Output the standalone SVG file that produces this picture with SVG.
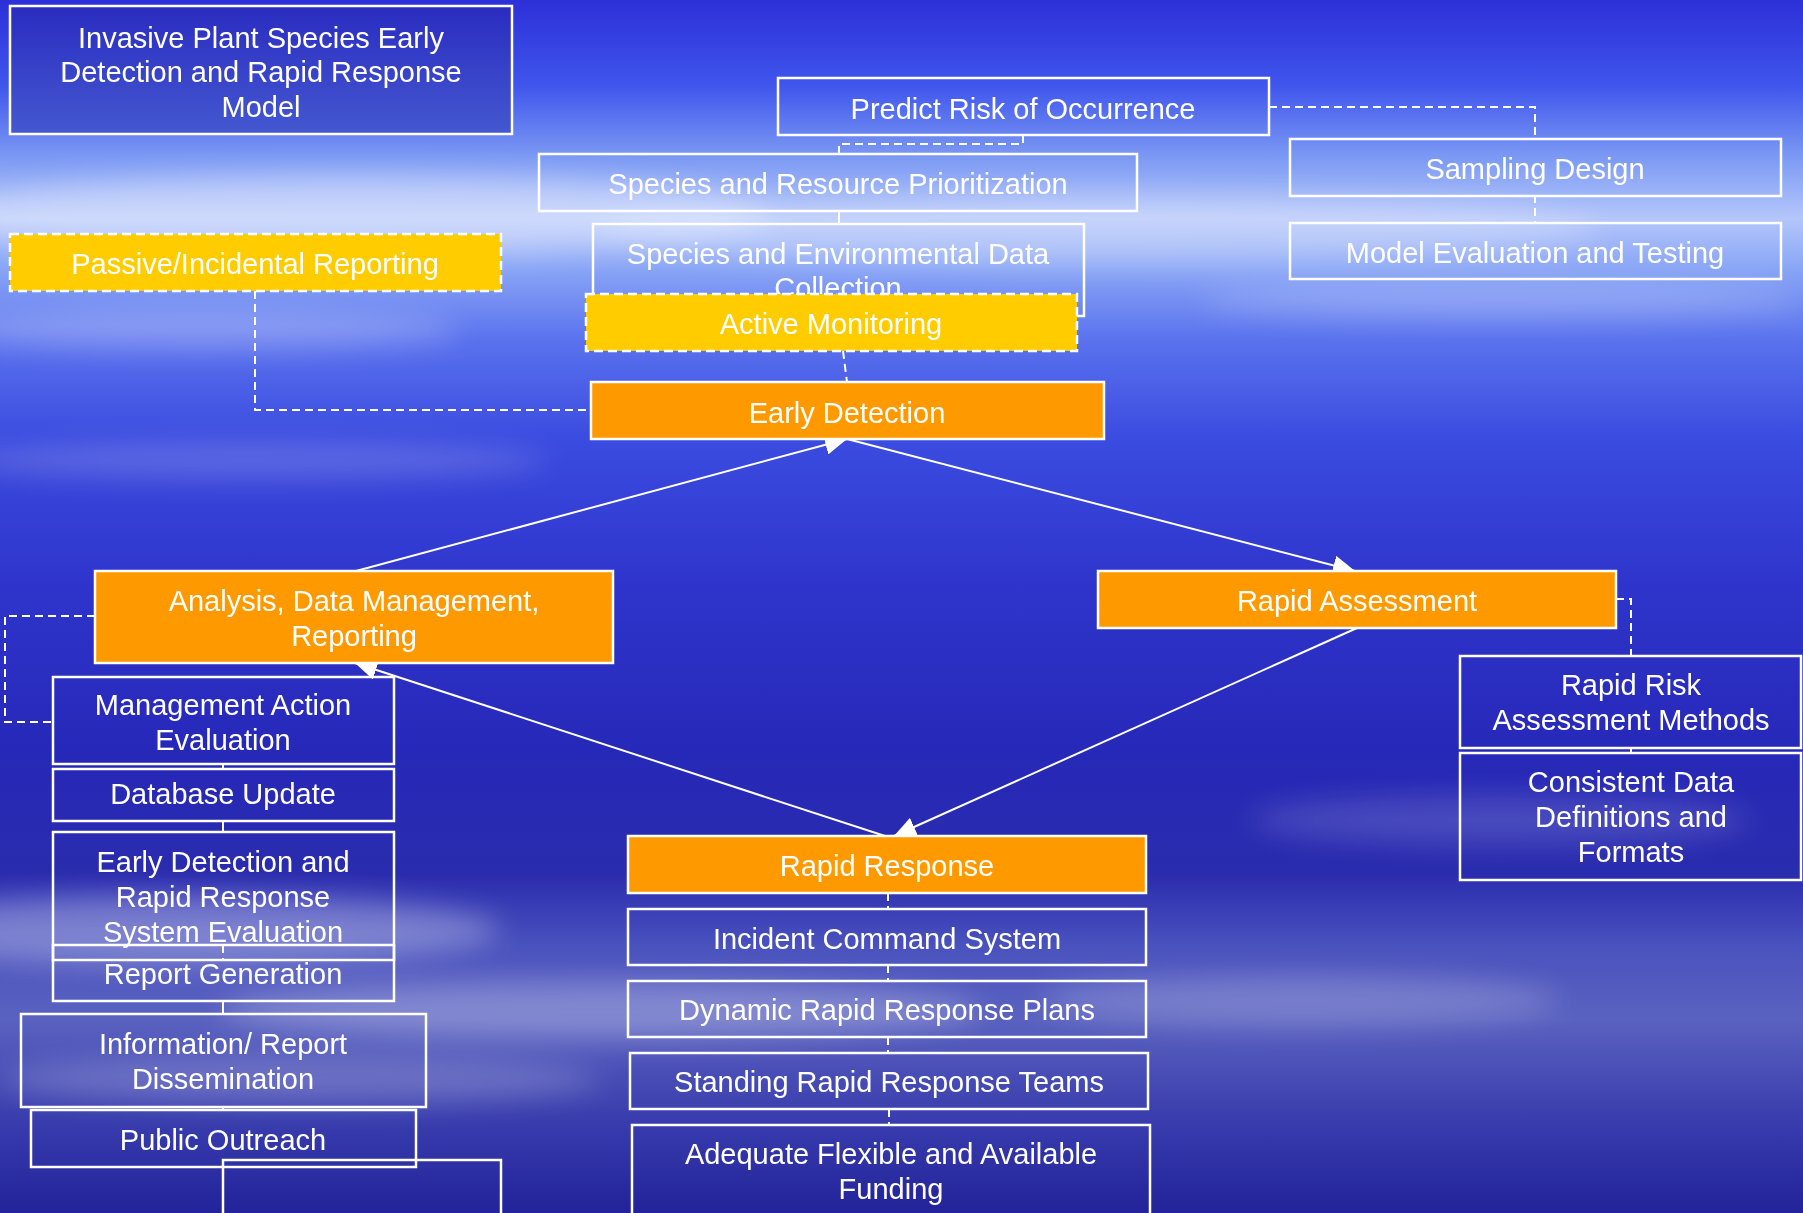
<svg xmlns="http://www.w3.org/2000/svg" width="1803" height="1213" viewBox="0 0 1803 1213">
<defs>
<linearGradient id="sky" x1="0" y1="0" x2="0" y2="1">
<stop offset="0" stop-color="#2c30d8"/>
<stop offset="0.07" stop-color="#3f55ec"/>
<stop offset="0.13" stop-color="#7c9af4"/>
<stop offset="0.18" stop-color="#b4c6fa"/>
<stop offset="0.22" stop-color="#8aa6f6"/>
<stop offset="0.28" stop-color="#5a72ee"/>
<stop offset="0.36" stop-color="#3b4ce0"/>
<stop offset="0.48" stop-color="#2f35cc"/>
<stop offset="0.62" stop-color="#2628b8"/>
<stop offset="0.72" stop-color="#2a2cae"/>
<stop offset="0.78" stop-color="#4a52be"/>
<stop offset="0.84" stop-color="#5a62c0"/>
<stop offset="0.92" stop-color="#3a3eae"/>
<stop offset="1" stop-color="#22229a"/>
</linearGradient>
<linearGradient id="titleFill" x1="0" y1="0" x2="0" y2="1">
<stop offset="0" stop-color="#2a2cc0"/>
<stop offset="1" stop-color="#4458d0"/>
</linearGradient>
<filter id="blur" x="-20%" y="-50%" width="140%" height="200%">
<feGaussianBlur stdDeviation="14"/>
</filter>
<marker id="arrow" markerUnits="userSpaceOnUse" markerWidth="24" markerHeight="20" refX="22" refY="10" orient="auto">
<path d="M0,0 L22,10 L0,20 Z" fill="#ffffff"/>
</marker>
</defs>
<style>
.lbl{font-family:"Liberation Sans",Arial,sans-serif;font-size:29px;fill:#ffffff;text-anchor:middle}
.box{fill:none;stroke:#ffffff;stroke-width:2.5}
.orange{fill:#ff9900;stroke:#ffffff;stroke-width:2.5}
.yellow{fill:#ffcc00;stroke:#ffffff;stroke-width:2.5;stroke-dasharray:9 5}
.dash{fill:none;stroke:#ffffff;stroke-width:2;stroke-dasharray:8 5}
.solid{fill:none;stroke:#ffffff;stroke-width:2}
</style>
<rect x="0" y="0" width="1803" height="1213" fill="url(#sky)"/>
<g filter="url(#blur)" fill="#ffffff">
<ellipse cx="350" cy="215" rx="420" ry="40" opacity="0.35"/>
<ellipse cx="1100" cy="230" rx="500" ry="35" opacity="0.25"/>
<ellipse cx="200" cy="330" rx="260" ry="20" opacity="0.25"/>
<ellipse cx="1500" cy="300" rx="300" ry="18" opacity="0.2"/>
<ellipse cx="250" cy="460" rx="300" ry="18" opacity="0.18"/>
<ellipse cx="180" cy="930" rx="320" ry="35" opacity="0.3"/>
<ellipse cx="600" cy="1010" rx="380" ry="30" opacity="0.25"/>
<ellipse cx="1300" cy="1000" rx="260" ry="25" opacity="0.2"/>
<ellipse cx="1500" cy="820" rx="250" ry="25" opacity="0.15"/>
<ellipse cx="300" cy="1080" rx="300" ry="25" opacity="0.2"/>
</g>

<g id="connectors">
<path class="dash" d="M1023,135 V144 H839 V154"/>
<path class="solid" d="M839,211 V224"/>
<path class="dash" d="M1269,107 H1535 V138"/>
<path class="dash" d="M1535,195 V223"/>
<path class="dash" d="M843,351 L847,382"/>
<path class="dash" d="M255,291 V410 H591"/>
<path class="dash" d="M95,616 H5 V722 H53"/>
<path class="solid" d="M223,764 V769"/>
<path class="solid" d="M223,821 V832"/>
<path class="dash" d="M223,945 V960"/>
<path class="solid" d="M223,1001 V1014"/>
<path class="solid" d="M223,1107 V1110"/>
<path class="dash" d="M1616,599 H1631 V656"/>
<path class="solid" d="M1631,748 V753"/>
<path class="dash" d="M888,893 V909"/>
<path class="dash" d="M888,965 V981"/>
<path class="dash" d="M888,1037 V1053"/>
<path class="dash" d="M889,1109 V1125"/>
<path class="solid" d="M356,571 L847,439" marker-end="url(#arrow)"/>
<path class="solid" d="M847,439 L1355,571" marker-end="url(#arrow)"/>
<path class="solid" d="M1357,628 L894,836" marker-end="url(#arrow)"/>
<path class="solid" d="M885,836 L355,663" marker-end="url(#arrow)"/>
</g>

<g id="title">
<rect x="10" y="6" width="502" height="128" fill="url(#titleFill)" stroke="#ffffff" stroke-width="2.5"/>
<text class="lbl" x="261" y="48">Invasive Plant Species Early</text>
<text class="lbl" x="261" y="82">Detection and Rapid Response</text>
<text class="lbl" x="261" y="117">Model</text>
</g>
<g id="predict-risk">
<rect class="box" x="778" y="78" width="491" height="57"/>
<text class="lbl" x="1023" y="119">Predict Risk of Occurrence</text>
</g>
<g id="sampling-design">
<rect class="box" x="1290" y="139" width="491" height="57"/>
<text class="lbl" x="1535" y="179">Sampling Design</text>
</g>
<g id="model-evaluation">
<rect class="box" x="1290" y="223" width="491" height="56"/>
<text class="lbl" x="1535" y="263">Model Evaluation and Testing</text>
</g>
<g id="species-resource">
<rect class="box" x="539" y="154" width="598" height="57"/>
<text class="lbl" x="838" y="194">Species and Resource Prioritization</text>
</g>
<g id="species-env-data">
<rect class="box" x="593" y="224" width="491" height="92"/>
<text class="lbl" x="838" y="264">Species and Environmental Data</text>
<text class="lbl" x="838" y="298">Collection</text>
</g>
<g id="passive-reporting">
<rect class="yellow" x="10" y="234" width="491" height="57"/>
<text class="lbl" x="255" y="274">Passive/Incidental Reporting</text>
</g>
<g id="active-monitoring">
<rect class="yellow" x="586" y="294" width="491" height="57"/>
<text class="lbl" x="831" y="334">Active Monitoring</text>
</g>
<g id="early-detection">
<rect class="orange" x="591" y="382" width="513" height="57"/>
<text class="lbl" x="847" y="423">Early Detection</text>
</g>
<g id="analysis">
<rect class="orange" x="95" y="571" width="518" height="92"/>
<text class="lbl" x="354" y="611">Analysis, Data Management,</text>
<text class="lbl" x="354" y="646">Reporting</text>
</g>
<g id="rapid-assessment">
<rect class="orange" x="1098" y="571" width="518" height="57"/>
<text class="lbl" x="1357" y="611">Rapid Assessment</text>
</g>
<g id="management-action">
<rect class="box" x="53" y="677" width="341" height="87"/>
<text class="lbl" x="223" y="715">Management Action</text>
<text class="lbl" x="223" y="750">Evaluation</text>
</g>
<g id="database-update">
<rect class="box" x="53" y="769" width="341" height="52"/>
<text class="lbl" x="223" y="804">Database Update</text>
</g>
<g id="edrr-evaluation">
<rect class="box" x="53" y="832" width="341" height="128"/>
<text class="lbl" x="223" y="872">Early Detection and</text>
<text class="lbl" x="223" y="907">Rapid Response</text>
<text class="lbl" x="223" y="942">System Evaluation</text>
</g>
<g id="report-generation">
<rect class="box" x="53" y="945" width="341" height="56"/>
<text class="lbl" x="223" y="984">Report Generation</text>
</g>
<g id="info-dissemination">
<rect class="box" x="21" y="1014" width="405" height="93"/>
<text class="lbl" x="223" y="1054">Information/ Report</text>
<text class="lbl" x="223" y="1089">Dissemination</text>
</g>
<g id="public-outreach">
<rect class="box" x="31" y="1110" width="385" height="57"/>
<text class="lbl" x="223" y="1150">Public Outreach</text>
</g>
<g id="empty-box">
<rect class="box" x="223" y="1160" width="278" height="70"/>
</g>
<g id="rapid-response">
<rect class="orange" x="628" y="836" width="518" height="57"/>
<text class="lbl" x="887" y="876">Rapid Response</text>
</g>
<g id="incident-command">
<rect class="box" x="628" y="909" width="518" height="56"/>
<text class="lbl" x="887" y="949">Incident Command System</text>
</g>
<g id="dynamic-plans">
<rect class="box" x="628" y="981" width="518" height="56"/>
<text class="lbl" x="887" y="1020">Dynamic Rapid Response Plans</text>
</g>
<g id="standing-teams">
<rect class="box" x="630" y="1053" width="518" height="56"/>
<text class="lbl" x="889" y="1092">Standing Rapid Response Teams</text>
</g>
<g id="funding">
<rect class="box" x="632" y="1125" width="518" height="110"/>
<text class="lbl" x="891" y="1164">Adequate Flexible and Available</text>
<text class="lbl" x="891" y="1199">Funding</text>
</g>
<g id="rapid-risk">
<rect class="box" x="1460" y="656" width="341" height="92"/>
<text class="lbl" x="1631" y="695">Rapid Risk</text>
<text class="lbl" x="1631" y="730">Assessment Methods</text>
</g>
<g id="consistent-data">
<rect class="box" x="1460" y="753" width="341" height="127"/>
<text class="lbl" x="1631" y="792">Consistent Data</text>
<text class="lbl" x="1631" y="827">Definitions and</text>
<text class="lbl" x="1631" y="862">Formats</text>
</g>
</svg>
